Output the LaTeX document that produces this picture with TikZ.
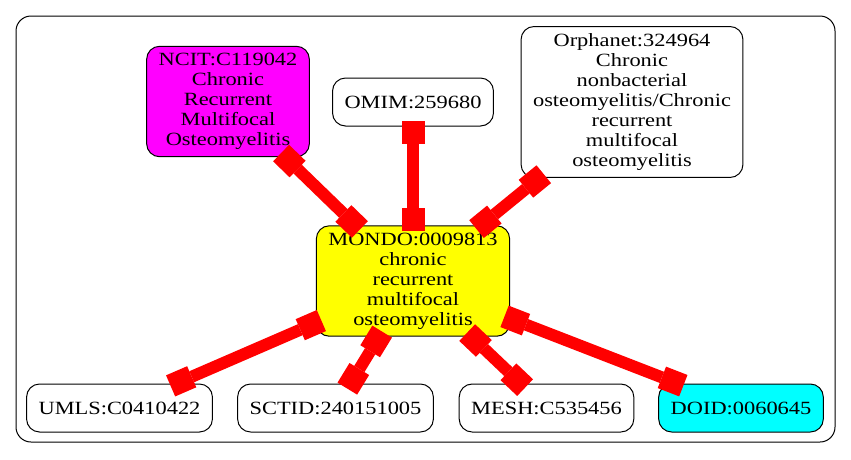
\documentclass[tikz,border=0pt]{standalone}
\usepackage{fontspec}
\setmainfont{Liberation Serif}[FakeStretch=1.2]
\usetikzlibrary{arrows.meta}
\definecolor{mondofill}{RGB}{255,255,0}
\definecolor{ncitfill}{RGB}{255,0,255}
\definecolor{doidfill}{RGB}{0,255,255}
\definecolor{linkred}{RGB}{255,0,0}

\begin{document}
\begin{tikzpicture}[x=1pt,y=-1pt,
 term/.style={draw, line width=1pt, rounded corners=13pt, align=center, inner xsep=12pt, inner ysep=7pt, minimum height=48pt, font=\fontsize{18.67pt}{20pt}\selectfont},
 tee/.tip={Rectangle[length=23pt,width=23pt,line width=0pt]},
 link/.style={linkred, line width=12pt, tee-tee, shorten <=-6pt, shorten >=-6pt}]
 \useasboundingbox (0,0) rectangle (851,459);
 \draw [line width=1pt, rounded corners=15pt] (16,16) rectangle (835,442); % 外枠

 \node (mondo) at (413,281) [term, fill=mondofill] {MONDO:0009813\\chronic\\recurrent\\multifocal\\osteomyelitis}; % 中央
 \node (ncit) at (228,101.5) [term, fill=ncitfill] {NCIT:C119042\\Chronic\\Recurrent\\Multifocal\\Osteomyelitis}; % 上段
 \node (omim) at (413,102) [term] {OMIM:259680};
 \node (orpha) at (632,102) [term] {Orphanet:324964\\Chronic\\nonbacterial\\osteomyelitis/Chronic\\recurrent\\multifocal\\osteomyelitis};
 \node (umls) at (119.5,408) [term] {UMLS:C0410422}; % 下段
 \node (sctid) at (335.5,408) [term] {SCTID:240151005};
 \node (mesh) at (546.5,408) [term] {MESH:C535456};
 \node (doid) at (741,408) [term, fill=doidfill] {DOID:0060645};

 \draw [link] (ncit) -- (mondo);
 \draw [link] (omim) -- (mondo);
 \draw [link] (orpha) -- (mondo);
 \draw [link] (mondo) -- (umls);
 \draw [link] (mondo) -- (sctid);
 \draw [link] (mondo) -- (mesh);
 \draw [link] (mondo) -- (doid);
\end{tikzpicture}
\end{document}
